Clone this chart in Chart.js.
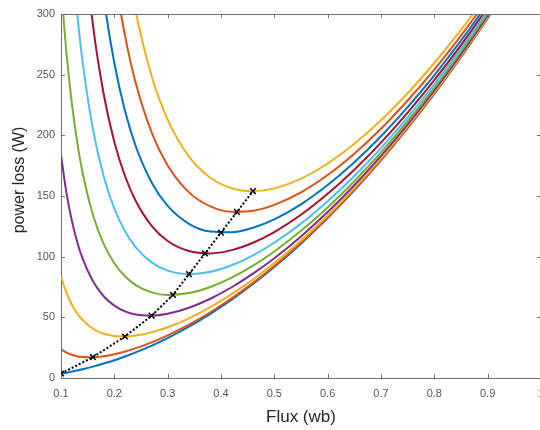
<!DOCTYPE html>
<html>
<head>
<meta charset="utf-8">
<script src="https://cdn.jsdelivr.net/npm/chart.js@4/dist/chart.umd.min.js"></script>
<style>
  html, body { margin: 0; padding: 0; background: #fff; overflow: hidden; }
  #wrap { width: 540px; height: 430px; overflow: hidden; }
</style>
</head>
<body>
<div id="wrap"><canvas id="myChart" width="553" height="430"></canvas></div>
<script>
// flux grid (wb), shared by every curve
const flux = [0.10, 0.11, 0.12, 0.13, 0.14, 0.16, 0.18, 0.20, 0.22, 0.24, 0.27, 0.30, 0.34,
  0.38, 0.42, 0.46, 0.50, 0.55, 0.60, 0.65, 0.70, 0.75, 0.80, 0.85, 0.90, 0.95];

// power loss (W), lowest curve first
const loss1 = [3.7, 4.4, 5.3, 6.2, 7.2, 9.4, 11.9, 14.6, 17.7, 21.1, 26.7, 32.9, 42.3, 52.9, 64.6, 77.5, 91.5, 110.7, 131.8, 154.6, 179.3, 205.9, 234.2, 264.4, 296.5, 330.3];
const loss2 = [23.7, 21.0, 19.2, 18.0, 17.4, 17.2, 18.0, 19.6, 21.8, 24.6, 29.4, 35.2, 44.0, 54.2, 65.7, 78.4, 92.3, 111.4, 132.3, 155.1, 179.7, 206.2, 234.6, 264.7, 296.7, 330.5];
const loss3 = [83.7, 70.5, 60.8, 53.5, 48.0, 40.6, 36.5, 34.6, 34.2, 35.0, 37.7, 41.8, 49.2, 58.4, 69.1, 81.2, 94.7, 113.4, 134.0, 156.5, 181.0, 207.3, 235.5, 265.5, 297.4, 331.2];
const loss4 = [183.7, 153.2, 130.3, 112.7, 99.0, 79.7, 67.4, 59.6, 54.9, 52.3, 51.4, 52.9, 57.9, 65.3, 74.8, 86.0, 98.7, 116.7, 136.8, 158.9, 183.0, 209.1, 237.1, 266.9, 298.7, 332.3];
const loss5 = [323.7, 268.9, 227.5, 195.5, 170.4, 134.4, 110.6, 94.6, 83.8, 76.6, 70.6, 68.5, 70.0, 75.0, 82.7, 92.6, 104.3, 121.3, 140.6, 162.2, 185.9, 211.6, 239.2, 268.9, 300.4, 333.9];
const loss6 = [503.7, 417.6, 352.5, 302.1, 262.3, 204.7, 166.2, 139.6, 121.0, 107.9, 95.3, 88.5, 85.6, 87.5, 92.9, 101.1, 111.5, 127.2, 145.7, 166.5, 189.5, 214.8, 242.0, 271.4, 302.6, 335.9];
const loss7 = [723.7, 599.5, 505.3, 432.2, 374.5, 290.6, 234.1, 194.6, 166.5, 146.1, 125.4, 112.9, 104.6, 102.7, 105.4, 111.5, 120.3, 134.5, 151.8, 171.7, 194.0, 218.7, 245.5, 274.4, 305.4, 338.3];
const loss8 = [983.7, 814.3, 685.8, 586.1, 507.2, 392.2, 314.3, 259.6, 220.2, 191.2, 161.1, 141.8, 127.1, 120.7, 120.1, 123.8, 130.7, 143.1, 159.0, 177.8, 199.3, 223.3, 249.5, 278.0, 308.6, 341.2];
const loss9 = [1283.7, 1062.3, 894.2, 763.6, 660.3, 509.4, 406.9, 334.6, 282.2, 243.3, 202.3, 175.2, 153.0, 141.5, 137.1, 137.9, 142.7, 153.0, 167.3, 184.9, 205.4, 228.7, 254.2, 282.2, 312.3, 344.5];
const loss10 = [1623.7, 1343.2, 1130.3, 964.8, 833.7, 642.2, 511.9, 419.6, 352.4, 302.3, 248.9, 212.9, 182.4, 165.0, 156.4, 154.0, 156.3, 164.3, 176.8, 193.0, 212.4, 234.7, 259.6, 286.9, 316.5, 348.3];

// minimum of each curve (dotted line with markers)
const minFlux = [0.10, 0.16, 0.22, 0.27, 0.31, 0.34, 0.37, 0.40, 0.43, 0.46];
const minLoss = [3.7, 17.2, 34.2, 51.4, 68.5, 85.6, 102.7, 119.8, 136.9, 154.0];

const xTicks = [0.1, 0.2, 0.3, 0.4, 0.5, 0.6, 0.7, 0.8, 0.9, 1];
const yTicks = [0, 50, 100, 150, 200, 250, 300];

const allLoss = [loss1, loss2, loss3, loss4, loss5, loss6, loss7, loss8, loss9, loss10];
const colors = ["#0072BD", "#D95319", "#EDB120", "#7E2F8E", "#77AC30",
  "#4DBEEE", "#A2142F", "#0072BD", "#D95319", "#EDB120"];

const datasets = allLoss.map((arr, i) => ({
  data: arr.map((v, j) => ({ x: flux[j], y: v })),
  borderColor: colors[i],
  borderWidth: 2,
  pointRadius: 0,
  fill: false,
  cubicInterpolationMode: "monotone",
  order: 20 - i,
}));

datasets.push({
  data: minFlux.map((f, j) => ({ x: f, y: minLoss[j] })),
  borderColor: "#000",
  borderWidth: 2,
  borderDash: [2, 2],
  pointStyle: "crossRot",
  pointRadius: 4,
  pointBorderColor: "#000",
  pointBorderWidth: 1.5,
  fill: false,
  order: 0,
});

// box on top/right and inward tick marks, like the original figure
const boxPlugin = {
  id: "box",
  afterDatasetsDraw(chart) {
    const { ctx, chartArea: a, scales } = chart;
    ctx.save();
    ctx.strokeStyle = "#6e6e6e";
    ctx.lineWidth = 1;
    ctx.beginPath();
    ctx.moveTo(a.left, a.top + 0.5);
    ctx.lineTo(a.right, a.top + 0.5);
    ctx.moveTo(a.right - 0.5, a.top);
    ctx.lineTo(a.right - 0.5, a.bottom);
    xTicks.forEach((t) => {
      const px = Math.round(scales.x.getPixelForValue(t)) + 0.5;
      ctx.moveTo(px, a.bottom); ctx.lineTo(px, a.bottom - 4);
      ctx.moveTo(px, a.top); ctx.lineTo(px, a.top + 4);
    });
    yTicks.forEach((t) => {
      const py = Math.round(scales.y.getPixelForValue(t)) + 0.5;
      ctx.moveTo(a.left, py); ctx.lineTo(a.left + 4, py);
      ctx.moveTo(a.right, py); ctx.lineTo(a.right - 4, py);
    });
    ctx.stroke();

    ctx.fillStyle = "#262626";
    ctx.font = "16px 'Liberation Sans', Arial, sans-serif";
    ctx.textAlign = "center";
    ctx.textBaseline = "middle";
    ctx.translate(20, 180);
    ctx.rotate(-Math.PI / 2);
    ctx.fillText("power loss (W)", 0, 0);
    ctx.restore();
  },
};

new Chart(document.getElementById("myChart"), {
  type: "line",
  data: { datasets: datasets },
  options: {
    responsive: false,
    animation: false,
    devicePixelRatio: 1,
    plugins: { legend: { display: false }, tooltip: { enabled: false } },
    layout: { padding: { left: 0, top: 14, right: 5, bottom: 0 } },
    scales: {
      x: {
        type: "linear",
        min: 0.1,
        max: 1,
        afterBuildTicks: (s) => { s.ticks = xTicks.map((v) => ({ value: v })); },
        afterFit: (s) => { s.height = 52; },
        grid: { display: false, drawTicks: false },
        border: { display: true, color: "#6e6e6e", width: 1 },
        ticks: {
          padding: 9,
          color: "#555555",
          font: { family: "'Liberation Sans', Arial, sans-serif", size: 11 },
          maxRotation: 0,
          callback: (v) => String(Math.round(v * 10) / 10),
        },
        title: {
          display: true,
          text: "Flux (wb)",
          color: "#262626",
          font: { family: "'Liberation Sans', Arial, sans-serif", size: 17 },
          padding: { top: 0, bottom: 2 },
        },
      },
      y: {
        min: 0,
        max: 300,
        afterBuildTicks: (s) => { s.ticks = yTicks.map((v) => ({ value: v })); },
        afterFit: (s) => { s.width = 61; },
        grid: { display: false, drawTicks: false },
        border: { display: true, color: "#6e6e6e", width: 1 },
        ticks: {
          padding: 6,
          color: "#555555",
          font: { family: "'Liberation Sans', Arial, sans-serif", size: 11 },
        },
      },
    },
  },
  plugins: [boxPlugin],
});
</script>
</body>
</html>
